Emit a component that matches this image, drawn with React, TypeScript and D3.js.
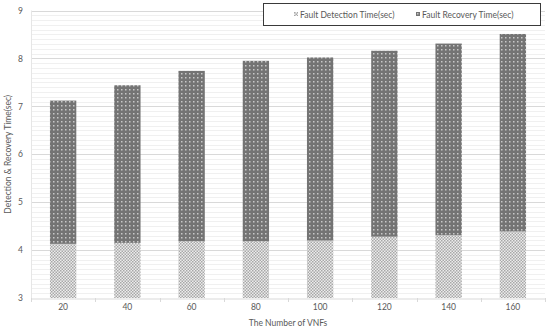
import React, { useEffect, useRef } from "react";
import * as d3 from "d3";

const categories = ["20", "40", "60", "80", "100", "120", "140", "160"];
const detection = [4.13, 4.15, 4.18, 4.18, 4.2, 4.28, 4.31, 4.39];
const total = [7.12, 7.44, 7.74, 7.95, 8.02, 8.16, 8.31, 8.51];
const yTicks = [3, 4, 5, 6, 7, 8, 9];

const W = 550;
const H = 329;
const margin = { top: 10.5, right: 5, bottom: 31, left: 31 };

export default function App() {
  const svgRef = useRef<SVGSVGElement>(null);

  useEffect(() => {
    const svg = d3.select(svgRef.current);
    svg.selectAll("*").remove();

    const font = "Lato, 'Open Sans', sans-serif";
    const textColor = "#595959";

    const x = d3
      .scaleBand()
      .domain(categories)
      .range([margin.left, W - margin.right])
      .paddingInner(0.59)
      .paddingOuter(0.295);
    const y = d3
      .scaleLinear()
      .domain([3, 9])
      .range([H - margin.bottom, margin.top]);

    const defs = svg.append("defs");
    // light checker for detection
    const p1 = defs
      .append("pattern")
      .attr("id", "detect")
      .attr("width", 3)
      .attr("height", 3)
      .attr("patternUnits", "userSpaceOnUse");
    p1.append("rect").attr("width", 3).attr("height", 3).attr("fill", "#ececec");
    p1.append("rect").attr("width", 1.5).attr("height", 1.5).attr("fill", "#a8a8a8");
    p1.append("rect").attr("x", 1.5).attr("y", 1.5).attr("width", 1.5).attr("height", 1.5).attr("fill", "#a8a8a8");

    // dark with light dots for recovery
    const p2 = defs
      .append("pattern")
      .attr("id", "recover")
      .attr("width", 4)
      .attr("height", 4)
      .attr("patternUnits", "userSpaceOnUse");
    p2.append("rect").attr("width", 4).attr("height", 4).attr("fill", "#747474");
    p2.append("rect").attr("x", 1).attr("y", 1).attr("width", 1.5).attr("height", 1.5).attr("fill", "#c8c8c8");

    // minor grid every 0.1
    const minor = d3.range(30, 91).map((d) => d / 10).filter((d) => Math.abs(d - Math.round(d)) > 0.01);
    svg
      .append("g")
      .selectAll("line")
      .data(minor)
      .join("line")
      .attr("x1", margin.left)
      .attr("x2", W - margin.right)
      .attr("y1", (d) => Math.round(y(d)) + 0.5)
      .attr("y2", (d) => Math.round(y(d)) + 0.5)
      .attr("stroke", "#f0f0f0")
      .attr("stroke-width", 1);

    svg
      .append("g")
      .selectAll("line")
      .data(yTicks.slice(1))
      .join("line")
      .attr("x1", margin.left)
      .attr("x2", W - margin.right)
      .attr("y1", (d) => Math.round(y(d)) + 0.5)
      .attr("y2", (d) => Math.round(y(d)) + 0.5)
      .attr("stroke", "#d9d9d9")
      .attr("stroke-width", 1);

    // left boundary line
    svg
      .append("line")
      .attr("x1", margin.left + 0.5)
      .attr("x2", margin.left + 0.5)
      .attr("y1", y(9))
      .attr("y2", y(3))
      .attr("stroke", "#e6e6e6");

    // bars
    const bars = svg.append("g");
    bars
      .selectAll("rect.det")
      .data(categories)
      .join("rect")
      .attr("class", "det")
      .attr("x", (d) => x(d)!)
      .attr("width", x.bandwidth())
      .attr("y", (d, i) => y(detection[i]))
      .attr("height", (d, i) => y(3) - y(detection[i]))
      .attr("fill", "url(#detect)");
    bars
      .selectAll("rect.rec")
      .data(categories)
      .join("rect")
      .attr("class", "rec")
      .attr("x", (d) => x(d)!)
      .attr("width", x.bandwidth())
      .attr("y", (d, i) => y(total[i]))
      .attr("height", (d, i) => y(detection[i]) - y(total[i]))
      .attr("fill", "url(#recover)");

    // x axis
    const xAxis = svg
      .append("g")
      .attr("transform", `translate(0,${Math.round(y(3)) + 0.5})`)
      .call(d3.axisBottom(x).tickSize(0).tickPadding(5));
    xAxis.select(".domain").attr("stroke", "#d9d9d9");
    xAxis.selectAll("text").attr("fill", textColor).attr("font-family", font).attr("font-size", 8.5);

    // ticks between categories
    const step = x.step();
    const boundaries = d3.range(0, categories.length + 1).map((i) => margin.left + i * step);
    svg
      .append("g")
      .selectAll("line")
      .data(boundaries)
      .join("line")
      .attr("x1", (d) => Math.round(d) + 0.5)
      .attr("x2", (d) => Math.round(d) + 0.5)
      .attr("y1", y(3))
      .attr("y2", y(3) + 4)
      .attr("stroke", "#d9d9d9");

    // y axis labels
    const yAxis = svg
      .append("g")
      .attr("transform", `translate(${margin.left},0)`)
      .call(d3.axisLeft(y).tickValues(yTicks).tickSize(0).tickPadding(8).tickFormat(d3.format("d")));
    yAxis.select(".domain").remove();
    yAxis.selectAll("text").attr("fill", textColor).attr("font-family", font).attr("font-size", 8.5);

    // axis titles
    svg
      .append("text")
      .attr("x", (margin.left + W - margin.right) / 2)
      .attr("y", 326)
      .attr("text-anchor", "middle")
      .attr("fill", textColor)
      .attr("font-family", font)
      .attr("font-size", 8.5)
      .text("The Number of VNFs");
    svg
      .append("text")
      .attr("transform", `translate(11,${(y(3) + y(9)) / 2}) rotate(-90)`)
      .attr("text-anchor", "middle")
      .attr("fill", textColor)
      .attr("font-family", font)
      .attr("font-size", 8.5)
      .text("Detection & Recovery Time(sec)");

    // legend
    const lg = svg.append("g");
    lg.append("rect")
      .attr("x", 263.5)
      .attr("y", 3.5)
      .attr("width", 277)
      .attr("height", 22)
      .attr("fill", "#fff")
      .attr("stroke", "#3a3a3a")
      .attr("stroke-width", 1);
    const items = [
      { label: "Fault Detection Time(sec)", fill: "url(#detect)", x: 294 },
      { label: "Fault Recovery Time(sec)", fill: "url(#recover)", x: 416 },
    ];
    items.forEach((it) => {
      lg.append("rect")
        .attr("x", it.x)
        .attr("y", 12)
        .attr("width", 4)
        .attr("height", 4)
        .attr("fill", it.fill);
      lg.append("text")
        .attr("x", it.x + 6)
        .attr("y", 17.5)
        .attr("fill", textColor)
        .attr("font-family", font)
        .attr("font-size", 8.5)
        .text(it.label);
    });
  }, []);

  return (
    <svg
      ref={svgRef}
      width={W}
      height={H}
      style={{ position: "absolute", left: 0, top: 0, background: "#fff" }}
    />
  );
}
